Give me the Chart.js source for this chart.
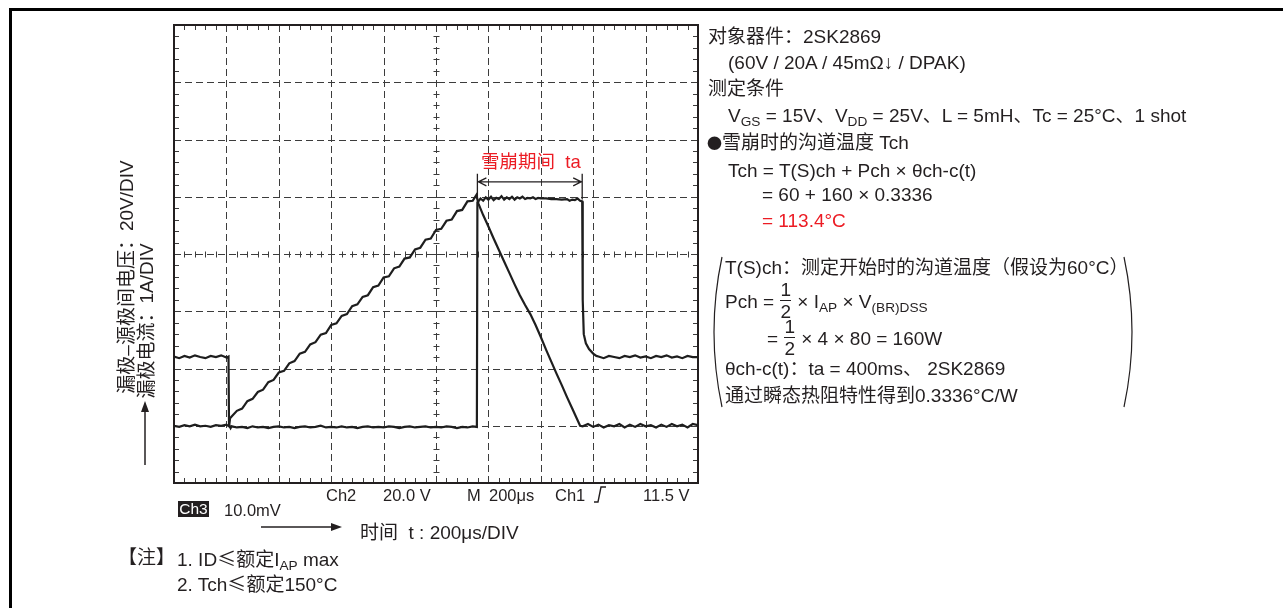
<!DOCTYPE html>
<html>
<head>
<meta charset="utf-8">
<script src="https://cdn.jsdelivr.net/npm/chart.js@4.4.1/dist/chart.umd.min.js"></script>
<style>
    body { margin:0; background:#fff; width:1283px; height:608px; position:relative; overflow:hidden;
           font-family:"Liberation Sans","Noto Sans CJK SC",sans-serif; color:#231f20; }
    .t { position:absolute; white-space:nowrap; font-size:19px; line-height:22px; }
    .s { font-size:16.5px; }
    .red { color:#ec1c24; }
    .cjk { font-family:"Noto Sans CJK SC",sans-serif; }
    sub { font-size:0.72em; vertical-align:-0.3em; line-height:0; }
    .fr { display:inline-flex; flex-direction:column; vertical-align:middle; text-align:center; line-height:21px; margin:0 1px; position:relative; top:-2px; }
    .fr span + span { border-top:1.3px solid #231f20; }
    .rot { position:absolute; white-space:nowrap; font-size:19px; line-height:20px; transform:translate(-50%,-50%) rotate(-90deg); }
    #wrap { position:absolute; left:164px; top:15px; }
</style>
</head>
<body>
<div style="position:absolute;left:9px;top:8px;width:1274px;height:3px;background:#000"></div>
<div style="position:absolute;left:9px;top:8px;width:3px;height:600px;background:#000"></div>

<div id="wrap"><canvas id="scope" width="544" height="480"></canvas></div>

<svg width="1283" height="608" style="position:absolute;left:0;top:0" fill="none" stroke="#231f20">
    <!-- arrow beside the axis labels -->
    <line x1="145" y1="465" x2="145" y2="410" stroke-width="1.5"/>
    <path d="M141,412 L145,401 L149,412 Z" fill="#231f20" stroke="none"/>
    <!-- time arrow -->
    <line x1="261" y1="527" x2="333" y2="527" stroke-width="1.5"/>
    <path d="M331,523 L342,527 L331,531 Z" fill="#231f20" stroke="none"/>
    <!-- trigger symbol -->
    <path d="M594,502 L598,502 L601,487 L606,487" stroke-width="1.4"/>
    <!-- big parens -->
    <path d="M722,257 Q706,332 722,407" stroke-width="1.2"/>
    <path d="M1124,257 Q1140,332 1124,407" stroke-width="1.2"/>
</svg>

<!-- right side text -->
<div class="t" style="left:708px;top:26px">对象器件：2SK2869</div>
<div class="t" style="left:728px;top:52px">(60V / 20A / 45mΩ↓ / DPAK)</div>
<div class="t" style="left:708px;top:78px">测定条件</div>
<div class="t" style="left:728px;top:105px">V<sub>GS</sub> = 15V、V<sub>DD</sub> = 25V、L = 5mH、Tc = 25°C、1 shot</div>
<div class="t" style="left:707px;top:132px"><span class="cjk" style="font-size:15px">●</span>雪崩时的沟道温度 Tch</div>
<div class="t" style="left:728px;top:160px">Tch = T(S)ch + Pch × θch-c(t)</div>
<div class="t" style="left:762px;top:184px">= 60 + 160 × 0.3336</div>
<div class="t red" style="left:762px;top:210px">= 113.4°C</div>

<div class="t" style="left:725px;top:257px">T(S)ch：测定开始时的沟道温度（假设为60°C）</div>
<div class="t" style="left:725px;top:281px">Pch = <span class="fr"><span>1</span><span>2</span></span> × I<sub>AP</sub> × V<sub>(BR)DSS</sub></div>
<div class="t" style="left:767px;top:318px">= <span class="fr"><span>1</span><span>2</span></span> × 4 × 80 = 160W</div>
<div class="t" style="left:725px;top:358px">θch-c(t)：ta = 400ms、 2SK2869</div>
<div class="t" style="left:725px;top:385px">通过瞬态热阻特性得到0.3336°C/W</div>

<!-- avalanche label -->
<div class="t red" style="left:481px;top:151px;font-size:18.5px">雪崩期间&nbsp; ta</div>

<!-- axis labels -->
<div class="rot" style="left:127px;top:277px">漏极–源极间电压：20V/DIV</div>
<div class="rot" style="left:147px;top:321px">漏极电流：1A/DIV</div>

<!-- scope readout -->
<div class="t s" style="left:326px;top:484px">Ch2</div>
<div class="t s" style="left:383px;top:484px">20.0 V</div>
<div class="t s" style="left:467px;top:484px">M</div>
<div class="t s" style="left:489px;top:484px">200μs</div>
<div class="t s" style="left:555px;top:484px">Ch1</div>
<div class="t s" style="left:643px;top:484px">11.5 V</div>
<div style="position:absolute;left:178px;top:501px;width:31px;height:16px;background:#231f20;color:#fff;font-size:15.5px;line-height:16px;text-align:center">Ch3</div>
<div class="t s" style="left:224px;top:499px">10.0mV</div>
<div class="t" style="left:360px;top:522px">时间&nbsp; t : 200μs/DIV</div>
<div class="t" style="left:118px;top:547px">【注】</div>
<div class="t" style="left:177px;top:547px">1. ID<span class="cjk">≤</span>额定I<sub>AP</sub> max</div>
<div class="t" style="left:177px;top:572px">2. Tch<span class="cjk">≤</span>额定150°C</div>

<script>
// screen is 10 x 8 divisions; values below are in divisions (ground = 1 div)
const DIV_X = 10;
const DIV_Y = 8;

// drain-source voltage (20V/DIV)
const vdsTime = [
    0, 0.1, 0.2, 0.3, 0.4, 0.5, 0.6, 0.7, 0.8, 0.9, 1.0, 1.04,
    1.05, 1.08,
    1.1, 1.2, 1.3, 1.4, 1.5, 1.6, 1.7, 1.8, 1.9, 2.0, 2.1, 2.2, 2.3, 2.4, 2.5, 2.6, 2.7, 2.8, 2.9, 3.0,
    3.1, 3.2, 3.3, 3.4, 3.5, 3.6, 3.7, 3.8, 3.9, 4.0, 4.1, 4.2, 4.3, 4.4, 4.5, 4.6, 4.7, 4.8, 4.9, 5.0,
    5.1, 5.2, 5.3, 5.4, 5.5, 5.6, 5.7, 5.78, 5.79,
    5.85, 5.9, 5.95, 6.0, 6.05, 6.1, 6.15, 6.2, 6.25, 6.3, 6.35, 6.4, 6.45, 6.5, 6.55, 6.6, 6.65, 6.7,
    6.75, 6.8, 6.85, 6.9, 6.95, 7.0, 7.1, 7.2, 7.3, 7.4, 7.5, 7.55, 7.6, 7.65, 7.7, 7.75, 7.79,
    7.80, 7.82, 7.86, 7.92, 8.0, 8.06,
    8.1, 8.2, 8.3, 8.4, 8.5, 8.6, 8.7, 8.8, 8.9, 9.0, 9.1, 9.2, 9.3, 9.4, 9.5, 9.6, 9.7, 9.8, 9.9, 10.0
];
const vdsLevel = [
    2.21, 2.18, 2.22, 2.19, 2.23, 2.20, 2.18, 2.22, 2.20, 2.23, 2.19, 2.21,
    1.02, 0.96,
    0.99, 0.97, 0.98, 0.96, 0.99, 0.97, 0.98, 0.96, 0.98, 0.99, 0.97, 0.98, 0.96, 0.98, 0.99, 0.97, 0.98, 1.00, 0.97, 0.98,
    0.97, 0.99, 0.97, 0.98, 0.96, 0.98, 0.99, 0.97, 0.98, 0.97, 0.99, 0.98, 0.96, 0.98, 0.99, 0.97, 0.98, 0.99, 0.97, 0.98,
    0.97, 0.99, 0.98, 0.96, 0.98, 0.97, 0.99, 0.98, 4.90,
    4.97, 4.93, 4.99, 4.95, 5.00, 4.94, 4.98, 4.96, 5.01, 4.95, 4.99, 4.96, 5.00, 4.95, 4.99, 4.97, 5.00, 4.96,
    4.98, 4.97, 4.99, 4.96, 4.98, 4.97, 4.97, 4.96, 4.96, 4.95, 4.96, 4.93, 4.95, 4.94, 4.97, 4.93, 4.92,
    3.20, 2.60, 2.44, 2.34, 2.26, 2.22,
    2.21, 2.18, 2.22, 2.20, 2.18, 2.22, 2.20, 2.23, 2.19, 2.21, 2.18, 2.22, 2.20, 2.23, 2.19, 2.21, 2.18, 2.22, 2.20, 2.20
];

// drain current (1A/DIV)
const idTime = [
    0, 0.1, 0.2, 0.3, 0.4, 0.5, 0.6, 0.7, 0.8, 0.9, 1.0, 1.05, 1.07,
    1.1, 1.2, 1.3, 1.4, 1.5, 1.6, 1.7, 1.8, 1.9, 2.0, 2.1, 2.2, 2.3, 2.4, 2.5, 2.6, 2.7, 2.8, 2.9, 3.0,
    3.1, 3.2, 3.3, 3.4, 3.5, 3.6, 3.7, 3.8, 3.9, 4.0, 4.1, 4.2, 4.3, 4.4, 4.5, 4.6, 4.7, 4.8, 4.9, 5.0,
    5.1, 5.2, 5.3, 5.4, 5.5, 5.6, 5.7, 5.77,
    5.81, 5.9, 6.0, 6.1, 6.2, 6.3, 6.4, 6.5, 6.6, 6.7, 6.8, 6.9, 7.0, 7.1, 7.2, 7.3, 7.4, 7.5, 7.6, 7.7, 7.75,
    7.8, 7.9, 8.0, 8.1, 8.2, 8.3, 8.4, 8.5, 8.6, 8.7, 8.8, 8.9, 9.0, 9.1, 9.2, 9.3, 9.4, 9.5, 9.6, 9.7, 9.8, 9.9, 10.0
];
const idLevel = [
    1.00, 0.98, 1.01, 0.99, 1.02, 0.99, 1.00, 0.98, 1.01, 1.00, 1.02, 0.99, 1.13,
    1.16, 1.26, 1.30, 1.43, 1.47, 1.59, 1.63, 1.76, 1.80, 1.93, 1.96, 2.09, 2.13, 2.26, 2.29, 2.42, 2.46, 2.59, 2.62, 2.76,
    2.79, 2.92, 2.95, 3.09, 3.12, 3.25, 3.28, 3.42, 3.45, 3.59, 3.61, 3.75, 3.78, 3.92, 3.94, 4.08, 4.11, 4.25, 4.27, 4.42,
    4.44, 4.58, 4.60, 4.75, 4.77, 4.92, 4.93, 5.03,
    4.88, 4.68, 4.48, 4.27, 4.07, 3.87, 3.67, 3.47, 3.28, 3.11, 2.95, 2.76, 2.55, 2.33, 2.12, 1.91, 1.71, 1.50, 1.30, 1.10, 1.00,
    0.99, 1.03, 0.98, 1.02, 0.97, 1.01, 0.99, 1.03, 0.97, 1.02, 0.98, 1.03, 0.99, 1.01, 0.97, 1.02, 0.98, 1.03, 0.99, 1.02, 0.97, 1.03, 1.01
];

// avalanche period marker (divisions)
const taStart = 5.79;
const taEnd = 7.79;

const scopeFrame = {
    id: 'scopeFrame',
    beforeDatasetsDraw(chart) {
        const { ctx, chartArea: a, scales: { x, y } } = chart;
        ctx.save();
        // dashed graticule
        ctx.strokeStyle = '#3c3c3c';
        ctx.lineWidth = 1;
        ctx.setLineDash([7, 4]);
        for (let i = 1; i < DIV_X; i++) {
            const px = Math.round(x.getPixelForValue(i)) + 0.5;
            ctx.beginPath(); ctx.moveTo(px, a.top); ctx.lineTo(px, a.bottom); ctx.stroke();
        }
        for (let j = 1; j < DIV_Y; j++) {
            const py = Math.round(y.getPixelForValue(j)) + 0.5;
            ctx.beginPath(); ctx.moveTo(a.left, py); ctx.lineTo(a.right, py); ctx.stroke();
        }
        ctx.setLineDash([]);
        // minor ticks on edges and centre axes
        const cx = Math.round(x.getPixelForValue(DIV_X / 2)) + 0.5;
        const cy = Math.round(y.getPixelForValue(DIV_Y / 2)) + 0.5;
        ctx.beginPath();
        for (let k = 1; k < DIV_X * 5; k++) {
            const px = Math.round(x.getPixelForValue(k / 5)) + 0.5;
            ctx.moveTo(px, a.top); ctx.lineTo(px, a.top + 5);
            ctx.moveTo(px, a.bottom); ctx.lineTo(px, a.bottom - 5);
            ctx.moveTo(px, cy - 3); ctx.lineTo(px, cy + 3);
        }
        for (let k = 1; k < DIV_Y * 5; k++) {
            const py = Math.round(y.getPixelForValue(k / 5)) + 0.5;
            ctx.moveTo(a.left, py); ctx.lineTo(a.left + 5, py);
            ctx.moveTo(a.right, py); ctx.lineTo(a.right - 5, py);
            ctx.moveTo(cx - 3, py); ctx.lineTo(cx + 3, py);
        }
        ctx.stroke();
        ctx.strokeStyle = '#231f20';
        ctx.lineWidth = 2;
        ctx.strokeRect(a.left, a.top, a.right - a.left, a.bottom - a.top);
        ctx.restore();
    },
    afterDatasetsDraw(chart) {
        const { ctx, scales: { x, y } } = chart;
        const x1 = x.getPixelForValue(taStart), x2 = x.getPixelForValue(taEnd);
        const top = y.getPixelForValue(5.4), bot = y.getPixelForValue(4.95), ay = y.getPixelForValue(5.26);
        ctx.save();
        ctx.strokeStyle = '#231f20';
        ctx.lineWidth = 1.3;
        ctx.beginPath();
        ctx.moveTo(x1, top); ctx.lineTo(x1, bot);
        ctx.moveTo(x2, top); ctx.lineTo(x2, bot);
        ctx.moveTo(x1 + 1, ay); ctx.lineTo(x2 - 1, ay);
        ctx.moveTo(x1 + 9, ay - 4); ctx.lineTo(x1 + 1, ay); ctx.lineTo(x1 + 9, ay + 4);
        ctx.moveTo(x2 - 9, ay - 4); ctx.lineTo(x2 - 1, ay); ctx.lineTo(x2 - 9, ay + 4);
        ctx.stroke();
        ctx.restore();
    }
};

const trace = (times, levels) => times.map((t, i) => ({ x: t, y: levels[i] }));

new Chart(document.getElementById('scope'), {
    type: 'line',
    data: {
        datasets: [
            { label: 'VDS', data: trace(vdsTime, vdsLevel), borderColor: '#1e1e1e', borderWidth: 2.2, pointRadius: 0, tension: 0 },
            { label: 'ID', data: trace(idTime, idLevel), borderColor: '#1e1e1e', borderWidth: 2.2, pointRadius: 0, tension: 0 },
        ],
    },
    options: {
        responsive: false,
        animation: false,
        events: [],
        layout: { padding: { left: 10, top: 10, right: 10, bottom: 12 } },
        plugins: { legend: { display: false }, tooltip: { enabled: false } },
        scales: {
            x: { type: 'linear', min: 0, max: DIV_X, display: false },
            y: { type: 'linear', min: 0, max: DIV_Y, display: false },
        },
    },
    plugins: [scopeFrame],
});
</script>
</body>
</html>
